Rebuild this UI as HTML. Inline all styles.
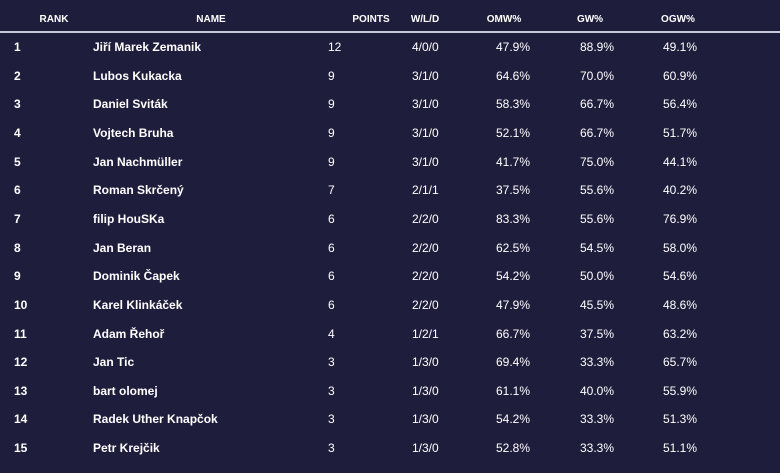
<!DOCTYPE html><html><head><style>
body{margin:0;width:780px;height:473px;background:#1f1d3c;font-family:"Liberation Sans",sans-serif;color:#fff;position:relative;overflow:hidden}
.h{position:absolute;top:14px;font-size:10px;font-weight:bold;transform:translateX(-50%)}
.line{position:absolute;left:0;width:780px;top:31px;height:2px;background:#c8c8e0}
.c{position:absolute;font-size:12px;white-space:nowrap}
.b{font-weight:bold}
</style></head><body>
<div class="h" style="left:54px">RANK</div>
<div class="h" style="left:211px">NAME</div>
<div class="h" style="left:371px">POINTS</div>
<div class="h" style="left:425px">W/L/D</div>
<div class="h" style="left:504px">OMW%</div>
<div class="h" style="left:590px">GW%</div>
<div class="h" style="left:678px">OGW%</div>
<div class="line"></div>
<div id="rows"></div>
<script>
var d=[["1","Jiří Marek Zemanik","12","4/0/0","47.9%","88.9%","49.1%"],
["2","Lubos Kukacka","9","3/1/0","64.6%","70.0%","60.9%"],
["3","Daniel Sviták","9","3/1/0","58.3%","66.7%","56.4%"],
["4","Vojtech Bruha","9","3/1/0","52.1%","66.7%","51.7%"],
["5","Jan Nachmüller","9","3/1/0","41.7%","75.0%","44.1%"],
["6","Roman Skrčený","7","2/1/1","37.5%","55.6%","40.2%"],
["7","filip HouSKa","6","2/2/0","83.3%","55.6%","76.9%"],
["8","Jan Beran","6","2/2/0","62.5%","54.5%","58.0%"],
["9","Dominik Čapek","6","2/2/0","54.2%","50.0%","54.6%"],
["10","Karel Klinkáček","6","2/2/0","47.9%","45.5%","48.6%"],
["11","Adam Řehoř","4","1/2/1","66.7%","37.5%","63.2%"],
["12","Jan Tic","3","1/3/0","69.4%","33.3%","65.7%"],
["13","bart olomej","3","1/3/0","61.1%","40.0%","55.9%"],
["14","Radek Uther Knapčok","3","1/3/0","54.2%","33.3%","51.3%"],
["15","Petr Krejčik","3","1/3/0","52.8%","33.3%","51.1%"]];
var xs=[14,93,328,412,496,580,663],h="";
d.forEach(function(r,i){var y=40+i*28.65;r.forEach(function(v,j){h+='<div class="c'+(j<2?' b':'')+'" style="left:'+xs[j]+'px;top:'+y+'px">'+v+'</div>'})});
document.getElementById("rows").innerHTML=h;
</script>
</body></html>
